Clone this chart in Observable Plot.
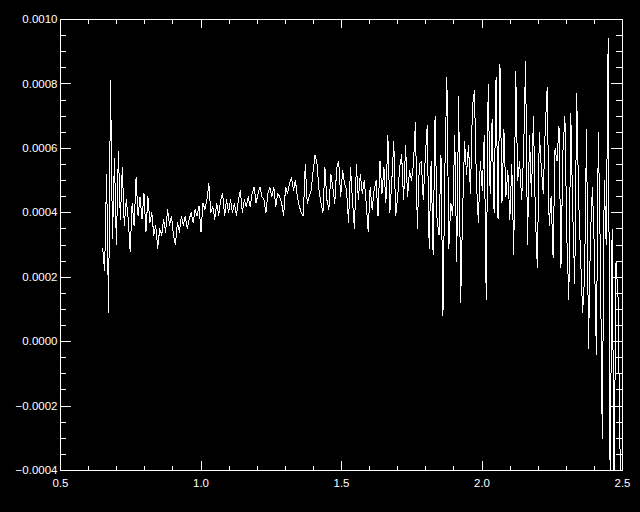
<!DOCTYPE html>
<html>
<head>
<meta charset="utf-8">
<script src="https://cdn.jsdelivr.net/npm/d3@7"></script>
<script src="https://cdn.jsdelivr.net/npm/@observablehq/plot@0.6"></script>
<style>
  html, body { margin: 0; padding: 0; background: #000; overflow: hidden; }
  #chart svg { display: block; }
</style>
</head>
<body>
<div id="chart"></div>
<script>
// Wavelength (x) samples
const wavelength = [
  0.650,0.657,0.664,0.671,0.678,0.685,0.692,0.699,0.706,0.713,
  0.720,0.727,0.734,0.741,0.748,0.755,0.762,0.769,0.776,0.783,
  0.790,0.797,0.804,0.811,0.818,0.825,0.832,0.839,0.846,0.853,
  0.860,0.867,0.874,0.881,0.888,0.895,0.902,0.909,0.916,0.923,
  0.930,0.937,0.944,0.951,0.958,0.965,0.972,0.979,0.986,0.993,
  1.000,1.007,1.014,1.021,1.028,1.035,1.042,1.049,1.056,1.063,
  1.070,1.077,1.084,1.091,1.098,1.105,1.112,1.119,1.126,1.133,
  1.140,1.147,1.154,1.161,1.168,1.175,1.182,1.189,1.196,1.203,
  1.210,1.217,1.224,1.231,1.238,1.245,1.252,1.259,1.266,1.273,
  1.280,1.287,1.294,1.301,1.308,1.315,1.322,1.329,1.336,1.343,
  1.350,1.357,1.364,1.371,1.378,1.385,1.392,1.399,1.406,1.413,
  1.420,1.427,1.434,1.441,1.448,1.455,1.462,1.469,1.476,1.483,
  1.490,1.497,1.504,1.511,1.518,1.525,1.532,1.539,1.546,1.553,
  1.560,1.567,1.574,1.581,1.588,1.595,1.602,1.609,1.616,1.623,
  1.630,1.637,1.644,1.651,1.658,1.665,1.672,1.679,1.686,1.693,
  1.700,1.707,1.714,1.721,1.728,1.735,1.742,1.749,1.756,1.763,
  1.770,1.777,1.784,1.791,1.798,1.805,1.812,1.819,1.826,1.833,
  1.840,1.847,1.854,1.861,1.868,1.875,1.882,1.889,1.896,1.903,
  1.910,1.917,1.924,1.931,1.938,1.945,1.952,1.959,1.966,1.973,
  1.980,1.987,1.994,2.001,2.008,2.015,2.022,2.029,2.036,2.043,
  2.050,2.057,2.064,2.071,2.078,2.085,2.092,2.099,2.106,2.113,
  2.120,2.127,2.134,2.141,2.148,2.155,2.162,2.169,2.176,2.183,
  2.190,2.197,2.204,2.211,2.218,2.225,2.232,2.239,2.246,2.253,
  2.260,2.267,2.274,2.281,2.288,2.295,2.302,2.309,2.316,2.323,
  2.330,2.337,2.344,2.351,2.358,2.365,2.372,2.379,2.386,2.393,
  2.400,2.407,2.414,2.421,2.428,2.435,2.442,2.449,2.456,2.463,
  2.470,2.477,2.484,2.491,2.498
];

// Flux values, in units of 1e-4
const fluxE4 = [
  2.9,2.2,5.2,0.9,8.1,3.2,5.7,3.0,5.9,3.8,
  5.4,3.6,4.4,3.8,2.8,4.3,3.6,5.1,3.9,4.5,
  3.8,4.6,3.4,4.5,3.7,4.0,3.3,3.6,2.9,3.5,
  3.3,3.8,3.4,4.1,3.6,3.9,3.3,3.0,3.7,3.4,
  3.9,3.6,3.9,3.5,3.8,4.0,3.7,4.1,3.9,4.2,
  3.4,4.3,4.1,4.4,4.9,4.0,4.2,3.8,4.3,3.9,
  4.4,4.6,3.9,4.4,4.0,4.4,4.0,4.3,3.9,4.4,
  4.7,4.0,4.4,4.2,4.5,4.2,4.6,4.8,4.3,4.6,
  4.8,4.5,4.4,4.0,4.6,4.8,4.5,4.8,4.2,4.6,
  4.5,4.3,3.9,4.8,4.6,4.9,5.1,4.7,5.0,4.5,
  4.2,4.0,3.9,5.5,4.3,4.5,4.7,5.3,5.8,5.5,
  4.7,4.3,4.0,5.4,4.4,4.1,5.2,4.8,4.3,5.4,
  5.6,4.5,5.3,4.9,4.7,3.7,5.4,4.4,3.5,5.5,
  4.4,5.2,4.6,5.0,4.3,3.4,4.8,4.1,4.7,5.0,
  3.9,5.6,4.6,5.4,4.3,6.4,4.0,5.0,6.2,3.9,
  4.5,5.4,5.8,4.4,6.1,4.5,5.3,5.0,5.5,6.8,
  3.5,5.5,5.6,4.4,5.7,6.7,2.9,5.6,2.7,7.0,
  3.8,3.3,5.8,0.8,5.4,8.2,2.9,4.3,3.9,6.4,
  2.5,7.6,1.2,4.0,6.2,5.2,6.1,4.6,7.3,7.8,
  5.0,3.7,5.6,4.7,6.4,1.3,8.0,4.6,6.9,4.0,
  8.2,3.8,8.6,4.3,6.6,4.5,5.3,3.8,5.5,2.7,
  8.4,5.0,5.6,4.4,5.8,8.7,3.0,6.4,4.5,7.0,
  3.9,2.3,6.5,5.4,4.6,6.6,7.9,3.6,4.5,2.6,
  6.0,5.6,6.7,2.3,5.9,7.0,3.2,1.3,7.1,4.0,
  1.8,7.7,4.4,2.6,0.9,2.0,6.6,-0.2,3.3,4.8,
  2.8,-0.4,6.5,2.8,-3.0,5.0,3.0,9.4,-4.6,3.5,
  -4.6,2.5,1.4,-3.3,-4.6
];
const FLUX_UNIT = 1e-4;

// Axes
const xMajorTicks = [0.5, 1.0, 1.5, 2.0, 2.5];
const xTickLabels = ["0.5", "1.0", "1.5", "2.0", "2.5"];
const xMinorTicks = [0.6,0.7,0.8,0.9, 1.1,1.2,1.3,1.4, 1.6,1.7,1.8,1.9, 2.1,2.2,2.3,2.4];
const yMajorTicks = [-0.0004, -0.0002, 0, 0.0002, 0.0004, 0.0006, 0.0008, 0.0010];
const yTickLabels = ["\u22120.0004", "\u22120.0002", "0.0000", "0.0002", "0.0004", "0.0006", "0.0008", "0.0010"];
const yMinorTicks = [
  -0.00035,-0.0003,-0.00025, -0.00015,-0.0001,-0.00005,
  0.00005,0.0001,0.00015, 0.00025,0.0003,0.00035,
  0.00045,0.0005,0.00055, 0.00065,0.0007,0.00075,
  0.00085,0.0009,0.00095
];

const W = 640, H = 512;
const mL = 60, mR = 18, mT = 19, mB = 42;
const plotW = W - mL - mR;
const plotH = H - mT - mB;

const data = wavelength.map((x, i) => ({x, y: fluxE4[i] * FLUX_UNIT}));

const fg = "white";
const crisp = {shapeRendering: "crispEdges"};
const chart = Plot.plot({
  width: W,
  height: H,
  marginLeft: mL,
  marginRight: mR,
  marginTop: mT,
  marginBottom: mB,
  style: {
    background: "black",
    color: fg,
    fontFamily: "'Liberation Sans', Arial, Helvetica, sans-serif",
    fontSize: "11px"
  },
  x: {domain: [0.5, 2.5]},
  y: {domain: [-0.0004, 0.0010]},
  marks: [
    Plot.line(data, {x: "x", y: "y", stroke: fg, strokeWidth: 1, clip: true, ...crisp}),
    Plot.frame({stroke: fg, strokeWidth: 1, ...crisp}),
    // bottom & top x ticks (inward)
    Plot.tickX(xMajorTicks, {x: d => d, stroke: fg, insetTop: plotH - 9, ...crisp}),
    Plot.tickX(xMajorTicks, {x: d => d, stroke: fg, insetBottom: plotH - 9, ...crisp}),
    Plot.tickX(xMinorTicks, {x: d => d, stroke: fg, insetTop: plotH - 4.5, ...crisp}),
    Plot.tickX(xMinorTicks, {x: d => d, stroke: fg, insetBottom: plotH - 4.5, ...crisp}),
    // left & right y ticks (inward)
    Plot.tickY(yMajorTicks, {y: d => d, stroke: fg, insetRight: plotW - 11, ...crisp}),
    Plot.tickY(yMajorTicks, {y: d => d, stroke: fg, insetLeft: plotW - 11, ...crisp}),
    Plot.tickY(yMinorTicks, {y: d => d, stroke: fg, insetRight: plotW - 6, ...crisp}),
    Plot.tickY(yMinorTicks, {y: d => d, stroke: fg, insetLeft: plotW - 6, ...crisp}),
    // labels
    Plot.axisX(xMajorTicks, {
      anchor: "bottom", tickSize: 0, tickPadding: 8, fill: fg, fontSize: 11.5,
      tickFormat: d => xTickLabels[xMajorTicks.indexOf(d)], label: null
    }),
    Plot.axisY(yMajorTicks, {
      anchor: "left", tickSize: 0, tickPadding: 3, fill: fg, fontSize: 11.5,
      tickFormat: d => yTickLabels[yMajorTicks.indexOf(d)], label: null
    })
  ]
});

document.getElementById("chart").appendChild(chart);
</script>
</body>
</html>
